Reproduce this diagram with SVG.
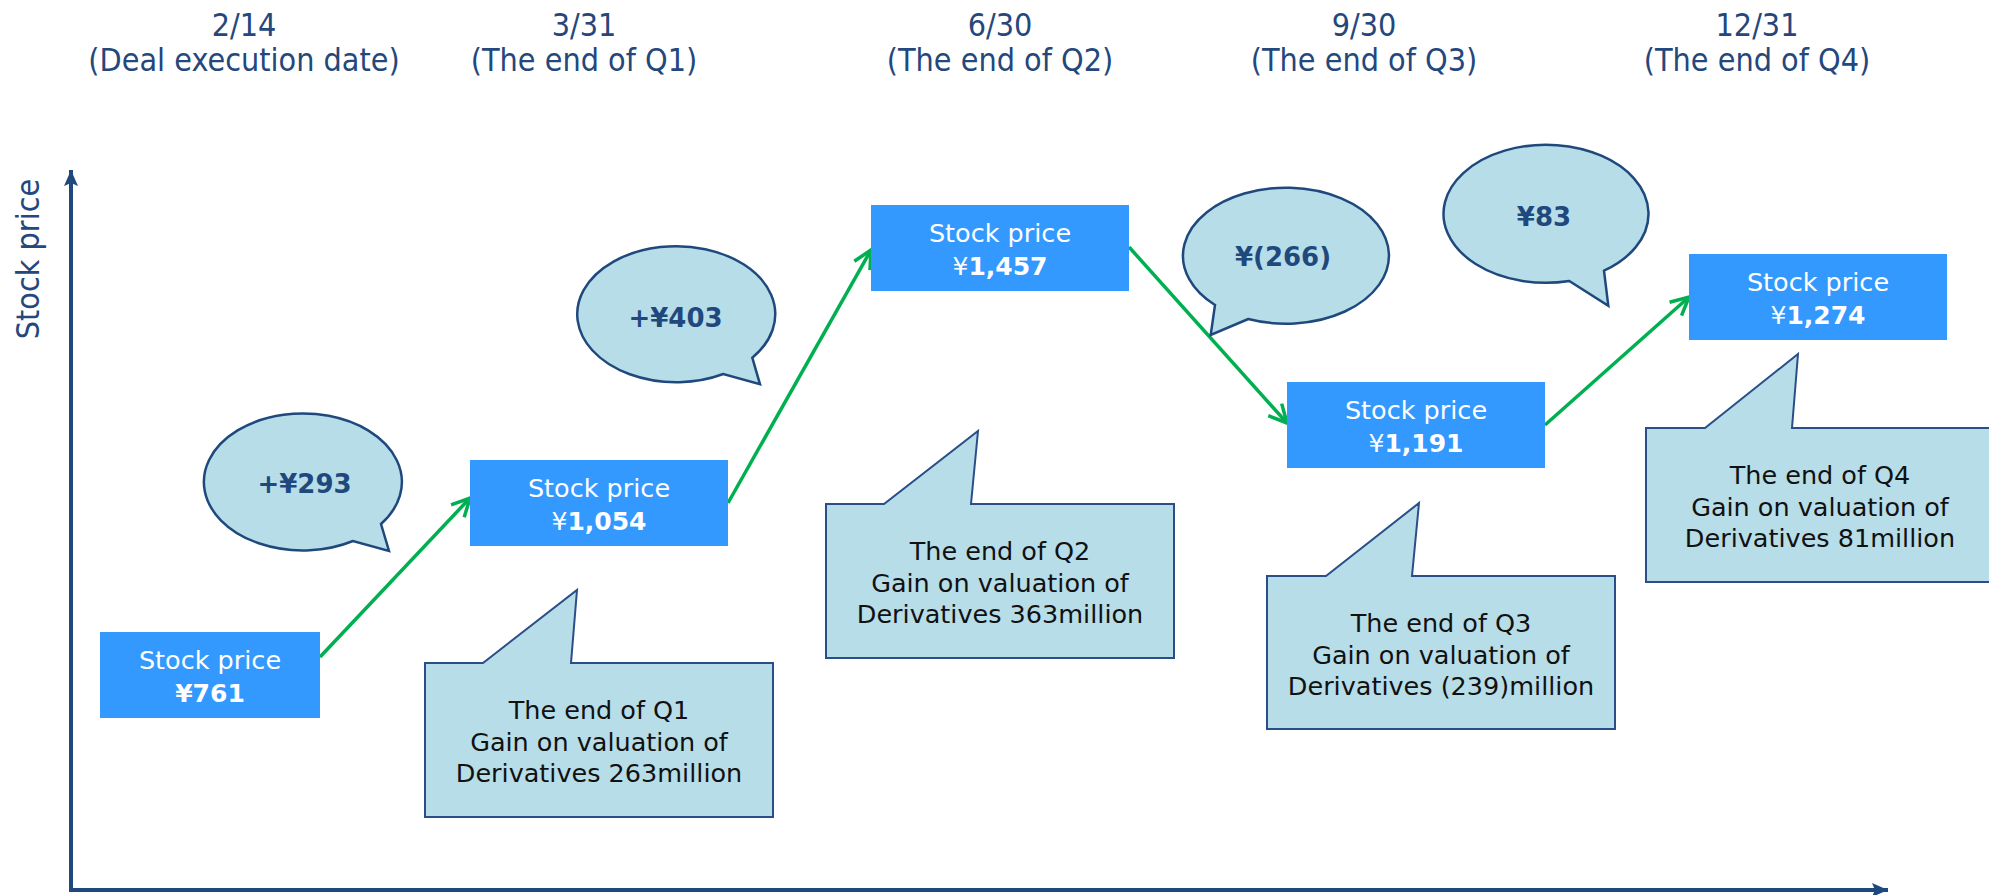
<svg xmlns="http://www.w3.org/2000/svg" width="1989" height="895" viewBox="0 0 1989 895">
<defs>
<style>
.hdr{font-family:"DejaVu Sans Condensed","DejaVu Sans",sans-serif;font-stretch:condensed;font-size:32px;fill:#24477C;text-anchor:middle}
.ylab{font-family:"DejaVu Sans Condensed","DejaVu Sans",sans-serif;font-stretch:condensed;font-size:32px;fill:#24477C;text-anchor:middle}
.box{fill:#3399FF}
.bt{font-family:"DejaVu Sans",sans-serif;font-size:25.5px;fill:#FFFFFF;text-anchor:middle}
.bv{font-family:"DejaVu Sans",sans-serif;font-size:25px;font-weight:bold;fill:#FFFFFF;text-anchor:middle}
.yen{font-weight:normal}
.bub{fill:#B7DDE8;stroke:#1F497D;stroke-width:2.5;stroke-linejoin:miter}
.bubt{font-family:"DejaVu Sans",sans-serif;font-size:26px;font-weight:bold;fill:#1F497D;text-anchor:middle}
.call{fill:#B7DDE8;stroke:#2A4F88;stroke-width:2}
.ct{font-family:"DejaVu Sans",sans-serif;font-size:25.5px;fill:#111111;text-anchor:middle}
.axis{stroke:#1F497D;stroke-width:4;fill:none}
.arr{stroke:#00B050;stroke-width:3.5;fill:none}
</style>
<marker id="chev" markerUnits="userSpaceOnUse" viewBox="0 0 24 24" markerWidth="24" markerHeight="24" refX="21" refY="12" orient="auto">
<path d="M3,3 L21,12 L3,21" fill="none" stroke="#00B050" stroke-width="3.5" stroke-linejoin="miter"/>
</marker>
<marker id="axh" markerUnits="userSpaceOnUse" viewBox="0 0 20 20" markerWidth="20" markerHeight="20" refX="18" refY="10" orient="auto">
<path d="M18,10 L2,3 L5,10 L2,17 Z" fill="#1F497D"/>
</marker>
</defs>
<rect width="1989" height="895" fill="#FFFFFF"/>

<g id="headers">
<text class="hdr" x="244" y="36">2/14</text>
<text class="hdr" x="244" y="71">(Deal execution date)</text>
<text class="hdr" x="584" y="36">3/31</text>
<text class="hdr" x="584" y="71">(The end of Q1)</text>
<text class="hdr" x="1000" y="36">6/30</text>
<text class="hdr" x="1000" y="71">(The end of Q2)</text>
<text class="hdr" x="1364" y="36">9/30</text>
<text class="hdr" x="1364" y="71">(The end of Q3)</text>
<text class="hdr" x="1757" y="36">12/31</text>
<text class="hdr" x="1757" y="71">(The end of Q4)</text>
</g>

<g id="axes">
<line class="axis" x1="71" y1="891" x2="71" y2="170" marker-end="url(#axh)"/>
<line class="axis" x1="69" y1="890" x2="1888" y2="890" marker-end="url(#axh)"/>
<text class="ylab" transform="translate(39,259) rotate(-90)">Stock price</text>
</g>

<g id="connectors">
<line class="arr" x1="320" y1="657" x2="470" y2="498" marker-end="url(#chev)"/>
<line class="arr" x1="728" y1="503" x2="871" y2="250" marker-end="url(#chev)"/>
<line class="arr" x1="1129" y1="247" x2="1287" y2="423" marker-end="url(#chev)"/>
<line class="arr" x1="1545" y1="425" x2="1689" y2="297" marker-end="url(#chev)"/>
</g>

<g id="price-761">
<rect class="box" x="100" y="632" width="220" height="86"/>
<text class="bt" x="210" y="669">Stock price</text>
<text class="bv" x="210" y="702">¥761</text>
</g>
<g id="price-1054">
<rect class="box" x="470" y="460" width="258" height="86"/>
<text class="bt" x="599" y="497">Stock price</text>
<text class="bv" x="599" y="530"><tspan class="yen">¥</tspan>1,054</text>
</g>
<g id="price-1457">
<rect class="box" x="871" y="205" width="258" height="86"/>
<text class="bt" x="1000" y="242">Stock price</text>
<text class="bv" x="1000" y="275"><tspan class="yen">¥</tspan>1,457</text>
</g>
<g id="price-1191">
<rect class="box" x="1287" y="382" width="258" height="86"/>
<text class="bt" x="1416" y="419">Stock price</text>
<text class="bv" x="1416" y="452"><tspan class="yen">¥</tspan>1,191</text>
</g>
<g id="price-1274">
<rect class="box" x="1689" y="254" width="258" height="86"/>
<text class="bt" x="1818" y="291">Stock price</text>
<text class="bv" x="1818" y="324"><tspan class="yen">¥</tspan>1,274</text>
</g>

<g id="bubble-293">
<path class="bub" d="M381,524 L389,551 L353,541 A99,68.5 0 1 1 381,524 Z"/>
<text class="bubt" x="304.5" y="492.5">+¥293</text>
</g>
<g id="bubble-403">
<path class="bub" d="M752.3,357.7 L760,384.3 L723.3,374 A99,68 0 1 1 752.3,357.7 Z"/>
<text class="bubt" x="675.5" y="326.5">+¥403</text>
</g>
<g id="bubble-266">
<path class="bub" d="M1248.3,319 L1210.7,335 L1215,305 A103,68 0 1 1 1248.3,319 Z"/>
<text class="bubt" x="1283" y="266">¥(266)</text>
</g>
<g id="bubble-83">
<path class="bub" d="M1569.3,281 L1608.3,305.7 L1604,270.7 A102.5,69 0 1 0 1569.3,281 Z"/>
<text class="bubt" x="1544" y="225.5">¥83</text>
</g>

<g id="callout-q1">
<path class="call" d="M425,663 L483,663 L577,590 L571,663 L773,663 L773,817 L425,817 Z"/>
<text class="ct" x="599" y="719">The end of Q1</text>
<text class="ct" x="599" y="751">Gain on valuation of</text>
<text class="ct" x="599" y="782">Derivatives 263million</text>
</g>
<g id="callout-q2">
<path class="call" d="M826,504 L884,504 L978,431 L971,504 L1174,504 L1174,658 L826,658 Z"/>
<text class="ct" x="1000" y="560">The end of Q2</text>
<text class="ct" x="1000" y="592">Gain on valuation of</text>
<text class="ct" x="1000" y="623">Derivatives 363million</text>
</g>
<g id="callout-q3">
<path class="call" d="M1267,576 L1326,576 L1419,503 L1412,576 L1615,576 L1615,729 L1267,729 Z"/>
<text class="ct" x="1441" y="632">The end of Q3</text>
<text class="ct" x="1441" y="664">Gain on valuation of</text>
<text class="ct" x="1441" y="695">Derivatives (239)million</text>
</g>
<g id="callout-q4">
<path class="call" d="M1646,428 L1705,428 L1798,354 L1792,428 L1994,428 L1994,582 L1646,582 Z"/>
<text class="ct" x="1820" y="484">The end of Q4</text>
<text class="ct" x="1820" y="516">Gain on valuation of</text>
<text class="ct" x="1820" y="547">Derivatives 81million</text>
</g>
</svg>
